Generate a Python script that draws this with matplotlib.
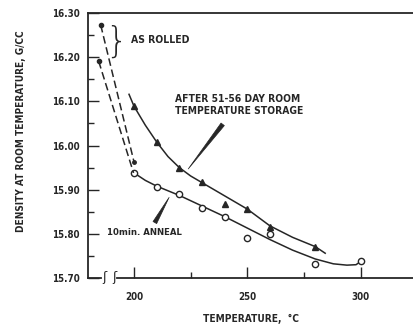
import numpy as np
import matplotlib
matplotlib.use("Agg")
import matplotlib.pyplot as plt
from matplotlib.ticker import MultipleLocator, FormatStrFormatter

# data
stored_t = [200, 210, 220, 230, 240, 250, 260, 280]
stored_d = [16.089, 16.008, 15.949, 15.917, 15.868, 15.856, 15.815, 15.770]

anneal_t = [200, 210, 220, 230, 240, 250, 260, 280, 300]
anneal_d = [15.938, 15.906, 15.890, 15.859, 15.838, 15.791, 15.800, 15.732, 15.739]

# hand-drawn fitted curves
stored_curve_t = [197.8, 200, 205, 210, 215, 220, 225, 230, 240, 250, 260, 270, 280, 284.4]
stored_curve_d = [16.116, 16.089, 16.046, 16.008, 15.975, 15.950, 15.931, 15.916, 15.886,
                  15.856, 15.818, 15.792, 15.771, 15.756]
anneal_curve_t = [200, 205, 210, 220, 230, 240, 250, 260, 270, 280, 288, 294, 298, 300]
anneal_curve_d = [15.938, 15.921, 15.908, 15.887, 15.863, 15.839, 15.813, 15.787, 15.763,
                  15.743, 15.732, 15.729, 15.730, 15.737]

# as rolled points and dashed links
rolled_t = [185.3, 184.4]
rolled_d = [16.273, 16.191]
rolled_end_t = [200.0, 199.8]
rolled_end_d = [15.963, 15.938]

ink = "#262626"
font = dict(family="DejaVu Sans", weight="bold", stretch="condensed", color=ink)

fig = plt.figure(figsize=(4.14, 3.27), dpi=100)
ax = fig.add_axes([0.2126, 0.150, 0.7874, 0.810])

ax.plot(stored_curve_t, stored_curve_d, color=ink, lw=1.1)
ax.plot(anneal_curve_t, anneal_curve_d, color=ink, lw=1.1)
ax.plot(stored_t, stored_d, linestyle="none", marker="^", ms=4, color=ink)
ax.plot(anneal_t, anneal_d, linestyle="none", marker="o", ms=4.5, mfc="white", mec=ink, mew=1)

for t0, d0, t1, d1 in zip(rolled_t, rolled_d, rolled_end_t, rolled_end_d):
    ax.plot([t0, t1], [d0, d1], color=ink, lw=1.1, linestyle=(0, (5, 2.5)))
ax.plot(rolled_t, rolled_d, linestyle="none", marker="o", ms=3, color=ink)
ax.plot(rolled_end_t[0], rolled_end_d[0], marker="o", ms=2.5, color=ink)

# annotations
ax.text(192.0, 16.236, "}", fontsize=25, color=ink, ha="center", va="center",
        family="DejaVu Sans", fontweight="light")
ax.text(198.5, 16.239, "AS ROLLED", fontsize=7.5, ha="left", va="center", **font)
ax.text(218.3, 16.092, "AFTER 51-56 DAY ROOM\nTEMPERATURE STORAGE", fontsize=7.4,
        ha="left", va="center", linespacing=1.2, **font)
ax.annotate("", xy=(223.2, 15.942), xytext=(239.9, 16.053),
            arrowprops=dict(arrowstyle="wedge,tail_width=0.3", color=ink, lw=0.5))
ax.text(187.9, 15.802, "10min. ANNEAL", fontsize=6.8, ha="left", va="center", **font)
ax.annotate("", xy=(216.1, 15.888), xytext=(208.6, 15.820),
            arrowprops=dict(arrowstyle="wedge,tail_width=0.3", color=ink, lw=0.5))

# axes
ax.set_xlim(179.7, 323.6)
ax.set_ylim(15.70, 16.30)
ax.spines["right"].set_visible(False)
for s in ["left", "top", "bottom"]:
    ax.spines[s].set_color(ink)
    ax.spines[s].set_linewidth(1.3)
ax.spines["bottom"].set_bounds(192.3, 323.6)
ax.plot([179.7, 185.3], [15.70, 15.70], color=ink, lw=1.3, clip_on=False)
for bx in [187.0, 191.5]:
    ax.text(bx, 15.70, "ʃ", fontsize=9, color=ink, ha="center", va="center",
            family="DejaVu Sans", clip_on=False)

ax.xaxis.set_major_locator(MultipleLocator(50))
ax.xaxis.set_minor_locator(MultipleLocator(25))
ax.yaxis.set_major_locator(MultipleLocator(0.1))
ax.yaxis.set_minor_locator(MultipleLocator(0.05))
ax.yaxis.set_major_formatter(FormatStrFormatter("%.2f"))
ax.set_xticks([200, 250, 300])
ax.set_xticks([225, 275], minor=True)
ax.tick_params(axis="both", which="major", direction="in", length=8, width=1, colors=ink,
               labelsize=7, pad=6)
ax.tick_params(axis="both", which="minor", direction="in", length=4, width=1, colors=ink)
ax.tick_params(axis="x", which="major", pad=10)
for lab in ax.get_xticklabels() + ax.get_yticklabels():
    lab.set_fontweight("bold")
    lab.set_fontstretch("condensed")

ax.set_xlabel("TEMPERATURE,  °C", fontsize=7.3, labelpad=9, **font)
fig.text(0.05, 0.60, "DENSITY AT ROOM TEMPERATURE, G/CC", rotation=90, fontsize=7.2,
         ha="center", va="center", **font)

fig.savefig("out.png", dpi=100)
